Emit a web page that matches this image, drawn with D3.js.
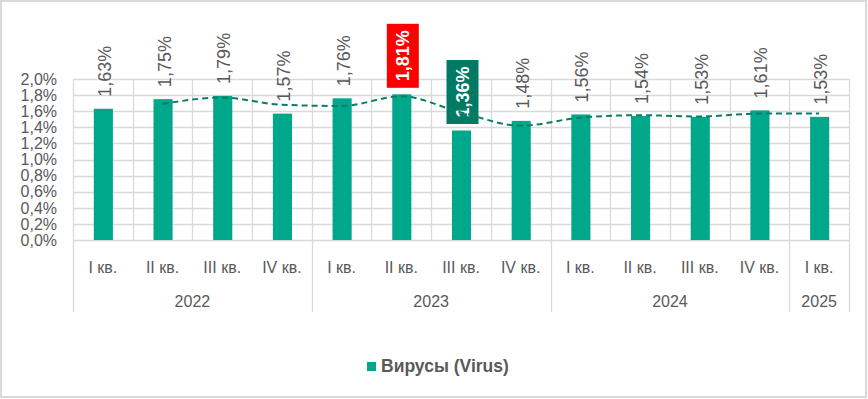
<!DOCTYPE html>
<html>
<head>
<meta charset="utf-8">
<script src="https://cdn.jsdelivr.net/npm/d3@7"></script>
<style>
  body { margin: 0; background: #fff; }
  text { font-family: "Liberation Sans", Arial, sans-serif; }
</style>
</head>
<body>
<div id="chart"></div>
<script>
var svgWidth = 868;
var svgHeight = 399;

// Data
var quarters = ["I кв.", "II кв.", "III кв.", "IV кв.", "I кв.", "II кв.", "III кв.", "IV кв.",
  "I кв.", "II кв.", "III кв.", "IV кв.", "I кв."];
var years = ["2022", "2022", "2022", "2022", "2023", "2023", "2023", "2023",
  "2024", "2024", "2024", "2024", "2025"];
var values = [1.63, 1.75, 1.79, 1.57, 1.76, 1.81, 1.36, 1.48, 1.56, 1.54, 1.53, 1.61, 1.53];
// dashed trend line (starts at the second quarter)
var trendValues = [1.69, 1.77, 1.68, 1.665, 1.785, 1.585, 1.42, 1.52, 1.55, 1.535, 1.57, 1.57];
var yTicks = [0, 0.2, 0.4, 0.6, 0.8, 1.0, 1.2, 1.4, 1.6, 1.8, 2.0];
var highlights = { 5: "#ff0000", 6: "#007a64" };
var seriesName = "Вирусы (Virus)";

var barColor = "#00a88b";
var textColor = "#595959";
var gridColor = "#d9d9d9";

var plot = { left: 73, right: 849, top: 79, bottom: 240 };

var svg = d3.select("#chart")
  .append("svg")
  .attr("width", svgWidth)
  .attr("height", svgHeight);

// outer border
svg.append("rect")
  .attr("x", 1)
  .attr("y", 1)
  .attr("width", 865)
  .attr("height", 396)
  .attr("fill", "#fff")
  .attr("stroke", gridColor)
  .attr("stroke-width", 2);

var ids = values.map((d, i) => i);

var xScale = d3.scaleBand()
  .domain(ids)
  .range([plot.left, plot.right])
  .padding(0);

var yScale = d3.scaleLinear()
  .domain([0, 2.0])
  .range([plot.bottom, plot.top]);

var fmt = v => v.toFixed(1).replace(".", ",") + "%";
var fmt2 = v => v.toFixed(2).replace(".", ",") + "%";

// horizontal grid
svg.append("g")
  .selectAll("line")
  .data(yTicks)
  .enter()
  .append("line")
  .attr("x1", plot.left)
  .attr("x2", plot.right)
  .attr("y1", d => Math.round(yScale(d)) + 0.5)
  .attr("y2", d => Math.round(yScale(d)) + 0.5)
  .attr("stroke", gridColor)
  .attr("stroke-width", 1.3);

// vertical grid at category boundaries
var bounds = ids.map(i => xScale(i)).concat([plot.right]);
svg.append("g")
  .selectAll("line")
  .data(bounds)
  .enter()
  .append("line")
  .attr("x1", d => Math.round(d) + 0.5)
  .attr("x2", d => Math.round(d) + 0.5)
  .attr("y1", plot.top)
  .attr("y2", plot.bottom)
  .attr("stroke", gridColor)
  .attr("stroke-width", 1.3);

// y axis labels
svg.append("g")
  .selectAll("text")
  .data(yTicks)
  .enter()
  .append("text")
  .attr("x", 57)
  .attr("y", d => yScale(d))
  .attr("dy", "0.36em")
  .attr("text-anchor", "end")
  .attr("font-size", "16px")
  .attr("fill", textColor)
  .text(fmt);

// bars
var barWidth = xScale.bandwidth() * 0.32;
svg.append("g")
  .selectAll("rect")
  .data(values)
  .enter()
  .append("rect")
  .attr("x", (d, i) => xScale(i) + xScale.bandwidth() / 2 - barWidth / 2 + 0.5)
  .attr("y", d => yScale(d))
  .attr("width", barWidth)
  .attr("height", d => plot.bottom - yScale(d))
  .attr("fill", barColor);

// data labels
var labels = svg.append("g");
values.forEach(function(v, i) {
  var cx = xScale(i) + xScale.bandwidth() / 2 + 1.5;
  var top = yScale(v);
  if (highlights[i]) {
    var boxH = 64;
    var boxW = 32;
    labels.append("rect")
      .attr("x", cx - boxW / 2)
      .attr("y", top - 6.5 - boxH)
      .attr("width", boxW)
      .attr("height", boxH)
      .attr("fill", highlights[i]);
    labels.append("text")
      .attr("transform", `translate(${cx}, ${top - 6.5 - boxH / 2}) rotate(-90)`)
      .attr("text-anchor", "middle")
      .attr("dy", "0.36em")
      .attr("font-size", "18px")
      .attr("font-weight", "bold")
      .attr("fill", "#fff")
      .text(fmt2(v));
  } else {
    labels.append("text")
      .attr("transform", `translate(${cx}, ${top - 12}) rotate(-90)`)
      .attr("text-anchor", "start")
      .attr("dy", "0.36em")
      .attr("font-size", "18px")
      .attr("fill", textColor)
      .text(fmt2(v));
  }
});

// dashed trend line (drawn over the labels, as in the original)
var line = d3.line()
  .x((d, i) => xScale(i + 1) + xScale.bandwidth() / 2)
  .y(d => yScale(d))
  .curve(d3.curveMonotoneX);

svg.append("path")
  .datum(trendValues)
  .attr("d", line)
  .attr("fill", "none")
  .attr("stroke", "#0b7d66")
  .attr("stroke-width", 2)
  .attr("stroke-dasharray", "6,4");

// category axis: quarter labels
svg.append("g")
  .selectAll("text")
  .data(quarters)
  .enter()
  .append("text")
  .attr("x", (d, i) => xScale(i) + xScale.bandwidth() / 2)
  .attr("y", 267)
  .attr("dy", "0.36em")
  .attr("text-anchor", "middle")
  .attr("font-size", "16px")
  .attr("fill", textColor)
  .text(d => d);

// year groups
var yearGroups = [];
years.forEach(function(y, i) {
  var last = yearGroups[yearGroups.length - 1];
  if (last && last.year === y) last.end = i;
  else yearGroups.push({ year: y, start: i, end: i });
});

var yearBounds = yearGroups.map(g => xScale(g.start)).concat([plot.right]);
svg.append("g")
  .selectAll("line")
  .data(yearBounds)
  .enter()
  .append("line")
  .attr("x1", d => Math.round(d) + 0.5)
  .attr("x2", d => Math.round(d) + 0.5)
  .attr("y1", plot.bottom)
  .attr("y2", 312)
  .attr("stroke", gridColor)
  .attr("stroke-width", 1.3);

svg.append("g")
  .selectAll("text")
  .data(yearGroups)
  .enter()
  .append("text")
  .attr("x", g => (xScale(g.start) + xScale(g.end) + xScale.bandwidth()) / 2)
  .attr("y", 301)
  .attr("dy", "0.36em")
  .attr("text-anchor", "middle")
  .attr("font-size", "16px")
  .attr("fill", textColor)
  .text(g => g.year);

// legend
var legend = svg.append("g");
legend.append("rect")
  .attr("x", 367)
  .attr("y", 362)
  .attr("width", 9)
  .attr("height", 9)
  .attr("fill", barColor);
legend.append("text")
  .attr("x", 381)
  .attr("y", 372)
  .attr("font-size", "17.5px")
  .attr("font-weight", "bold")
  .attr("fill", textColor)
  .text(seriesName);
</script>
</body>
</html>
